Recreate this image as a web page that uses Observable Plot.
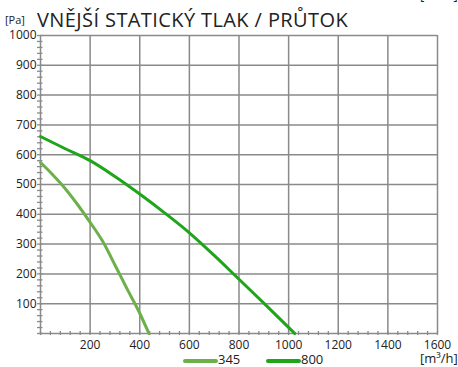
<!DOCTYPE html>
<html><head><meta charset="utf-8">
<script src="https://cdn.jsdelivr.net/npm/d3@7"></script>
<script src="https://cdn.jsdelivr.net/npm/@observablehq/plot@0.6"></script>
<style>
body{margin:0;background:#fff;}
#wrap{position:relative;width:458px;height:367px;overflow:hidden;font-family:"Open Sans",sans-serif;color:#222;}
#wrap svg{position:absolute;left:0;top:0;}
.t{position:absolute;white-space:nowrap;line-height:1.2;}
.sw{position:absolute;height:4px;border-radius:2px;}
</style></head><body>
<div id="wrap"></div>
<script>
const titleUnit = "[Pa]";
const titleText = "VNĚJŠÍ STATICKÝ TLAK / PRŮTOK";
const xUnit = "[m³/h]";
const seriesNames = ["345", "800"];
const seriesColors = ["#6cb04a", "#1ea51a"];
const flow345 = [0, 50, 100, 150, 200, 250, 300, 350, 400, 437];
const press345 = [574, 532, 486, 432, 373, 310, 230, 148, 68, 0];
const flow800 = [0, 100, 200, 300, 400, 500, 600, 700, 800, 900, 1025];
const press800 = [661, 620, 580, 527, 468, 405, 338, 262, 182, 102, 0];
const xTicks = [200, 400, 600, 800, 1000, 1200, 1400, 1600];
const yTicks = [100, 200, 300, 400, 500, 600, 700, 800, 900, 1000];
const xMinor = d3.range(0, 1601, 40);
const yMinor = d3.range(0, 1001, 20);

const data = [
  ...flow345.map((f, i) => ({series: seriesNames[0], q: f, p: press345[i]})),
  ...flow800.map((f, i) => ({series: seriesNames[1], q: f, p: press800[i]}))
];
const grid = "#8a8a8a";
const chart = Plot.plot({
  width: 458, height: 367,
  marginLeft: 40, marginRight: 21, marginTop: 35, marginBottom: 34,
  style: {fontFamily: "Open Sans, sans-serif", fontSize: "12px", color: "#222", background: "transparent"},
  x: {domain: [0, 1600], label: null},
  y: {domain: [0, 1000], label: null},
  color: {domain: seriesNames, range: seriesColors},
  marks: [
    Plot.gridX(xTicks, {stroke: grid, strokeOpacity: 1, strokeWidth: 1.5}),
    Plot.gridY(yTicks, {stroke: grid, strokeOpacity: 1, strokeWidth: 1.5}),
    Plot.ruleX([0], {stroke: grid, strokeWidth: 1.5}),
    Plot.ruleY([0], {stroke: grid, strokeWidth: 1.5}),
    Plot.ruleX(xMinor, {x: d => d, y1: -7, y2: 7, stroke: grid, strokeWidth: 1.3}),
    Plot.ruleY(yMinor, {y: d => d, x1: -12, x2: 10, stroke: grid, strokeWidth: 1.3}),
    Plot.axisX(xTicks, {tickSize: 0, tickPadding: 7, label: null, tickFormat: d => String(d), fill: "#222"}),
    Plot.axisY(yTicks, {tickSize: 0, tickPadding: 4, label: null, tickFormat: d => String(d), fill: "#222"}),
    Plot.line(data, {x: "q", y: "p", z: "series", stroke: "series", strokeWidth: 3, curve: "monotone-x"})
  ]
});
const wrap = document.getElementById("wrap");
wrap.appendChild(chart);
function addText(txt, left, top, size) {
  const d = document.createElement("div");
  d.className = "t"; d.textContent = txt;
  d.style.left = left + "px"; d.style.top = top + "px"; d.style.fontSize = size + "px";
  wrap.appendChild(d); return d;
}
addText(titleUnit, 5, 13, 11);
const tt = addText(titleText, 37, 8, 20);
tt.style.letterSpacing = "0.4px";
addText(xUnit, 420, 351, 13);
addText(xUnit, 420, -12, 13);
const legendX = [183, 266];
seriesNames.forEach((s, i) => {
  const sw = document.createElement("div");
  sw.className = "sw"; sw.style.left = legendX[i] + "px"; sw.style.top = "359px";
  sw.style.width = "35px"; sw.style.background = seriesColors[i];
  wrap.appendChild(sw);
  addText(s, legendX[i] + 35, 352, 13);
});
</script>
</body></html>
